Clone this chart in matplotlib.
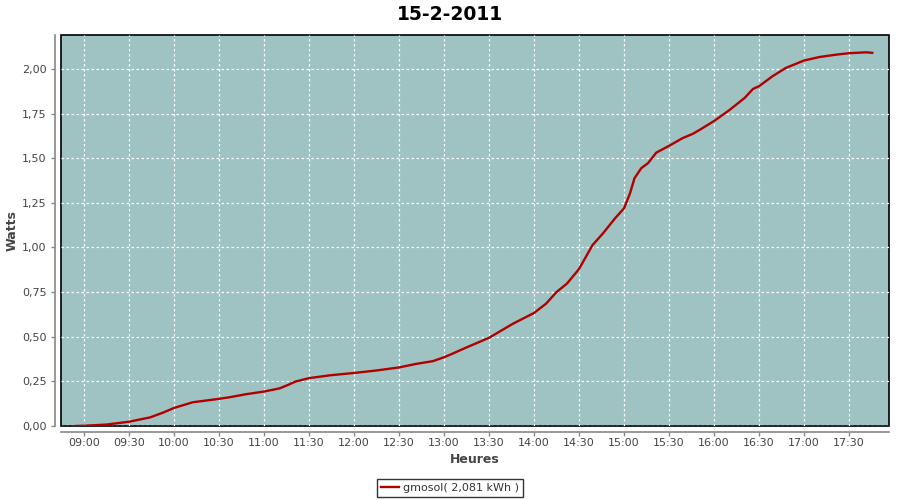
import matplotlib
matplotlib.use("Agg")
import matplotlib.pyplot as plt
from matplotlib.ticker import FuncFormatter, FixedLocator
from matplotlib.lines import Line2D

title = "15-2-2011"
series_label = "gmosol( 2,081 kWh )"
x_label = "Heures"
y_label = "Watts"

times = ["08:54:30", "09:01:30", "09:15", "09:30", "09:44", "09:53", "10:00", "10:12:30",
         "10:30", "10:37", "10:48", "11:00", "11:10:30", "11:16", "11:21", "11:30",
         "11:44", "12:00", "12:15", "12:30", "12:41:30", "12:52:30", "13:00", "13:04",
         "13:15", "13:30", "13:46", "14:00", "14:08", "14:15", "14:22", "14:30",
         "14:39", "14:46", "14:54", "15:00", "15:04", "15:07", "15:11:30", "15:16",
         "15:21:30", "15:30", "15:39", "15:46", "15:50:30", "16:00", "16:10:30", "16:20:30",
         "16:26", "16:30", "16:39", "16:48", "17:00", "17:10:30", "17:21:30", "17:30",
         "17:41:30", "17:45:30"]
watts = [0.000, 0.002, 0.008, 0.024, 0.048, 0.076, 0.101, 0.133,
         0.152, 0.161, 0.178, 0.193, 0.211, 0.230, 0.249, 0.268,
         0.284, 0.297, 0.311, 0.328, 0.348, 0.363, 0.385, 0.399,
         0.440, 0.494, 0.573, 0.633, 0.685, 0.750, 0.798, 0.879,
         1.013, 1.079, 1.163, 1.219, 1.303, 1.388, 1.444, 1.472,
         1.531, 1.569, 1.612, 1.637, 1.659, 1.708, 1.771, 1.838,
         1.888, 1.903, 1.959, 2.006, 2.047, 2.067, 2.080, 2.088,
         2.093, 2.090]
x_ticks = ["09:00", "09:30", "10:00", "10:30", "11:00", "11:30", "12:00", "12:30", "13:00",
           "13:30", "14:00", "14:30", "15:00", "15:30", "16:00", "16:30", "17:00", "17:30"]
y_ticks = [0.0, 0.25, 0.5, 0.75, 1.0, 1.25, 1.5, 1.75, 2.0]


def to_min(s):
    parts = [int(p) for p in s.split(":")]
    m = parts[0] * 60 + parts[1]
    if len(parts) > 2:
        m += parts[2] / 60
    return m


xs = [to_min(t) for t in times]
xt = [to_min(t) for t in x_ticks]

fig = plt.figure(figsize=(9, 5), dpi=100)
ax = fig.add_axes([61 / 900, 1 - 426 / 500, 828 / 900, 391 / 500])
ax.patch.set_facecolor("#9EC3C2")
ax.patch.set_edgecolor("black")
ax.patch.set_linewidth(1.2)

ax.plot(xs, watts, color="#B00000", lw=1.7, zorder=3)

ax.set_xlim(to_min("08:44:40"), to_min("17:56:40"))
ax.set_ylim(0, 2.19)
ax.xaxis.set_major_locator(FixedLocator(xt))
ax.xaxis.set_major_formatter(FuncFormatter(lambda v, p: "%02d:%02d" % (int(round(v)) // 60, int(round(v)) % 60)))
ax.yaxis.set_major_locator(FixedLocator(y_ticks))
ax.yaxis.set_major_formatter(FuncFormatter(lambda v, p: ("%.2f" % v).replace(".", ",")))

ax.grid(True, color="white", linestyle=(0, (2, 2)), linewidth=0.9)
ax.set_axisbelow(True)

for s in ["top", "right"]:
    ax.spines[s].set_visible(False)
for s in ["left", "bottom"]:
    ax.spines[s].set_position(("outward", 4))
    ax.spines[s].set_color("#888888")
    ax.spines[s].set_linewidth(1.2)

ax.tick_params(axis="both", colors="#888888", labelcolor="#444444", labelsize=8, length=3, width=1, direction="out")
ax.tick_params(axis="x", pad=2)

ax.set_xlabel(x_label, fontsize=9, fontweight="bold", color="#444444", labelpad=3)
ax.set_ylabel(y_label, fontsize=9, fontweight="bold", color="#444444", labelpad=2)
fig.text(0.5, 0.972, title, ha="center", va="center", fontsize=13.5, fontweight="bold", color="black")

handle = Line2D([], [], color="#B00000", lw=1.7)
leg = fig.legend([handle], [series_label], loc="center", bbox_to_anchor=(0.5, 1 - 488 / 500),
                 fontsize=8, frameon=True, fancybox=False, edgecolor="black", handlelength=1.6,
                 handletextpad=0.4, borderpad=0.35, borderaxespad=0)
leg.get_frame().set_linewidth(1.0)
for t in leg.get_texts():
    t.set_color("#333333")

fig.savefig("out.png", dpi=100, facecolor="white")
